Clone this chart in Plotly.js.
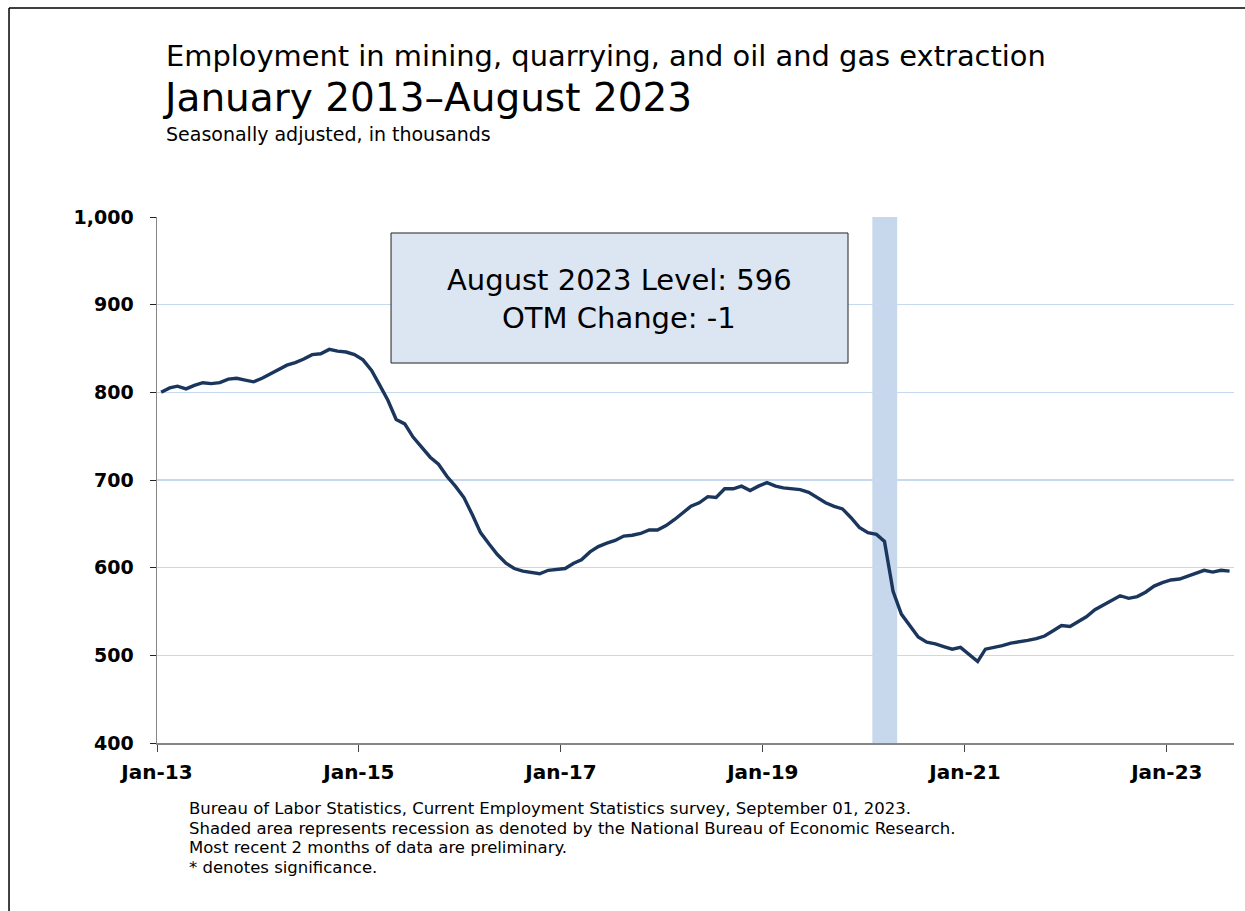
<!DOCTYPE html>
<html>
<head>
<meta charset="utf-8">
<script src="https://cdn.plot.ly/plotly-3.0.1.min.js"></script>
<style>
  html, body { margin: 0; padding: 0; background: #fff; }
  #chart { width: 1245px; height: 911px; }
</style>
</head>
<body>
<div id="chart"></div>
<script>
// monthly values, thousands, seasonally adjusted
const startYear = 2013;
const v2013 = [800, 805, 807, 804, 808, 811, 810, 811, 815, 816, 814, 812];
const v2014 = [816, 821, 825, 831, 834, 838, 843, 844, 849, 847, 846, 843];
const v2015 = [837, 825, 809, 791, 769, 764, 749, 737, 726, 718, 704, 693];
const v2016 = [680, 660, 640, 627, 615, 605, 599, 596, 594, 593, 597, 598];
const v2017 = [599, 605, 609, 618, 624, 628, 631, 636, 637, 639, 643, 643];
const v2018 = [648, 655, 662, 670, 674, 681, 680, 690, 690, 693, 688, 693];
const v2019 = [697, 693, 691, 690, 689, 686, 680, 674, 670, 667, 657, 646];
const v2020 = [640, 638, 630, 573, 547, 534, 521, 515, 513, 510, 507, 509];
const v2021 = [501, 493, 507, 509, 511, 514, 515, 517, 519, 522, 528, 534];
const v2022 = [533, 539, 544, 552, 557, 563, 568, 565, 567, 572, 579, 583];
const v2023 = [586, 587, 590, 594, 597, 595, 597, 596];

const tickVals = ['2013-01-01', '2015-01-01', '2017-01-01', '2019-01-01', '2021-01-01', '2023-01-01'];
const tickText = ['Jan-13', 'Jan-15', 'Jan-17', 'Jan-19', 'Jan-21', 'Jan-23'];

const recessionStart = '2020-02-01';
const recessionEnd = '2020-05-01';

const titleLines = [
    'Employment in mining, quarrying, and oil and gas extraction',
    'January 2013\u2013August 2023',
    'Seasonally adjusted, in thousands',
];
const boxLines = ['August 2023 Level: 596', 'OTM Change: -1'];
const notes = [
    'Bureau of Labor Statistics, Current Employment Statistics survey, September 01, 2023.',
    'Shaded area represents recession as denoted by the National Bureau of Economic Research.',
    'Most recent 2 months of data are preliminary.',
    '* denotes significance.',
];

const FONT = "'DejaVu Sans', sans-serif";

const values = [].concat(v2013, v2014, v2015, v2016, v2017, v2018, v2019, v2020, v2021, v2022, v2023);
// points sit in the middle of each month
const dates = values.map((v, i) => {
    const y = startYear + Math.floor(i / 12);
    const m = String(i % 12 + 1).padStart(2, '0');
    return `${y}-${m}-16`;
});

const trace = {
    x: dates,
    y: values,
    type: 'scatter',
    mode: 'lines',
    line: { color: '#1b365d', width: 3.4 },
    hoverinfo: 'x+y',
};

const annotations = [];
// titles
[[titleLines[0], 28.9, 1.306, 0.0065], [titleLines[1], 39, 1.228, 0.003], [titleLines[2], 19, 1.158, 0.0065]].forEach(([t, s, y, x]) => {
    annotations.push({
        text: t, xref: 'paper', yref: 'paper', x, y,
        xanchor: 'left', yanchor: 'middle', showarrow: false,
        font: { family: FONT, size: s, color: '#000' },
    });
});
// level box text
boxLines.forEach((t, i) => {
    annotations.push({
        text: t, xref: 'paper', yref: 'paper', x: 0.4294, y: 0.880 - i * 0.072,
        xanchor: 'center', yanchor: 'middle', showarrow: false,
        font: { family: FONT, size: 29, color: '#000' },
    });
});
// footnotes
notes.forEach((t, i) => {
    annotations.push({
        text: t, xref: 'paper', yref: 'paper', x: 0.0279, y: -0.1236 - i * 0.038,
        xanchor: 'left', yanchor: 'middle', showarrow: false,
        font: { family: FONT, size: 16.5, color: '#000' },
    });
});

const shapes = [
    { // recession band
        type: 'rect', xref: 'x', yref: 'paper', x0: recessionStart, x1: recessionEnd, y0: 0, y1: 1,
        fillcolor: '#c8d8ec', line: { width: 0 }, layer: 'below',
    },
    { // level box
        type: 'rect', xref: 'paper', yref: 'paper', x0: 0.2173, x1: 0.6416, y0: 0.7224, y1: 0.9696,
        fillcolor: '#dce6f2', line: { color: '#222', width: 1 }, layer: 'above',
    },
    // outer frame, left and top edges
    { type: 'line', xref: 'paper', yref: 'paper', x0: -0.1374, x1: -0.1374, y0: 1.3973, y1: -0.35, line: { color: '#000', width: 1.5 } },
    { type: 'line', xref: 'paper', yref: 'paper', x0: -0.1374, x1: 1.02, y0: 1.3973, y1: 1.3973, line: { color: '#000', width: 1.5 } },
];

const layout = {
    width: 1245,
    height: 911,
    margin: { l: 157, r: 11, t: 217, b: 168 },
    paper_bgcolor: '#fff',
    plot_bgcolor: '#fff',
    showlegend: false,
    font: { family: FONT, color: '#000' },
    xaxis: {
        type: 'date',
        range: ['2013-01-01', '2023-09-01'],
        tickvals: tickVals,
        ticktext: tickText,
        showgrid: false,
        zeroline: false,
        showline: true,
        linecolor: '#868686',
        linewidth: 1.5,
        ticks: 'outside',
        ticklen: 7,
        tickcolor: '#444',
        tickfont: { family: FONT, size: 20, weight: 'bold', color: '#000' },
        ticklabelstandoff: 3,
    },
    yaxis: {
        range: [400, 1000],
        dtick: 100,
        tickformat: ',',
        showgrid: true,
        gridcolor: '#c6d9f0',
        gridwidth: 1.5,
        zeroline: false,
        showline: true,
        linecolor: '#868686',
        linewidth: 1.5,
        ticks: 'outside',
        ticklen: 6,
        tickcolor: '#222',
        tickfont: { family: FONT, size: 19, weight: 'bold', color: '#000' },
        ticklabelstandoff: 12,
    },
    shapes,
    annotations,
};

Plotly.newPlot('chart', [trace], layout, { displayModeBar: false, staticPlot: true });
</script>
</body>
</html>
